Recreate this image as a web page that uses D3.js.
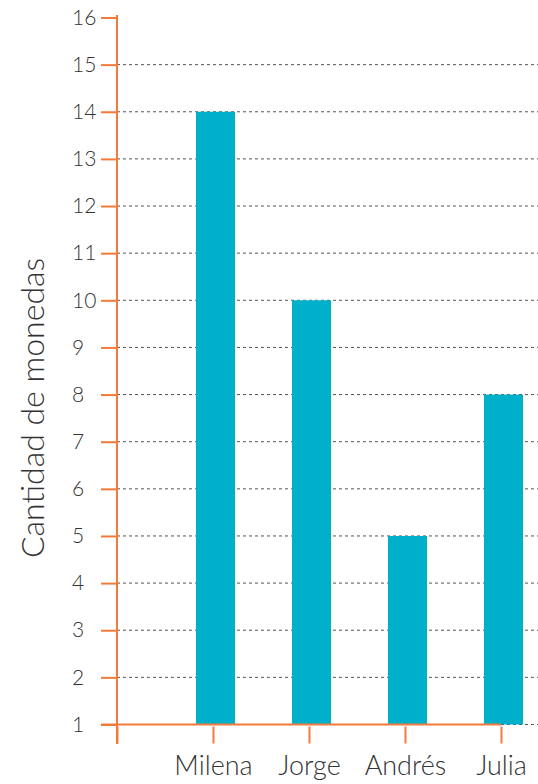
<!DOCTYPE html>
<html lang="es">
<head>
<meta charset="utf-8">
<title>Cantidad de monedas</title>
<script src="https://cdn.jsdelivr.net/npm/d3@7"></script>
<style>
  body { margin: 0; background: #fff; }
  svg { display: block; }
  text { font-family: Lato, "Open Sans", sans-serif; font-weight: 300; fill: #333; }
</style>
</head>
<body>
<svg id="chart"></svg>
<script>
const names = ["Milena", "Jorge", "Andrés", "Julia"];
const coins = [14, 10, 5, 8];
const yTicks = d3.range(1, 17);
const yTitle = "Cantidad de monedas";

const width = 538, height = 784;
const orange = "#f47a3a", teal = "#00b0cb";

const svg = d3.select("#chart").attr("width", width).attr("height", height);

const x = d3.scalePoint().domain(["", ...names]).range([117, 501]);
const y = d3.scaleLinear().domain([1, 16]).range([724.5, 17.5]);

const defs = svg.append("defs");
const f = defs.append("filter").attr("id", "glow").attr("x", "-50%").attr("y", "-5%").attr("width", "200%").attr("height", "110%");
f.append("feGaussianBlur").attr("stdDeviation", 5);

// soft glow along the axes
svg.append("line").attr("x1", 122).attr("x2", 122).attr("y1", 20).attr("y2", 740)
  .attr("stroke", "#f9c9b4").attr("stroke-width", 8).attr("opacity", 0.35).attr("filter", "url(#glow)");
svg.append("line").attr("x1", 120).attr("x2", 500).attr("y1", 732).attr("y2", 732)
  .attr("stroke", "#f9c9b4").attr("stroke-width", 6).attr("opacity", 0.3).attr("filter", "url(#glow)");

// grid lines (none at the top value)
svg.append("g").selectAll("line").data(yTicks.slice(0, -1)).join("line")
  .attr("x1", 117).attr("x2", width)
  .attr("y1", d => y(d)).attr("y2", d => y(d))
  .attr("stroke", "#555").attr("stroke-width", 1).attr("stroke-dasharray", "3,3");

// bars
svg.append("g").selectAll("rect").data(names).join("rect")
  .attr("x", d => x(d) - 17)
  .attr("width", 39)
  .attr("y", (d, i) => y(coins[i]))
  .attr("height", (d, i) => y(1) - y(coins[i]))
  .attr("fill", teal);

// y axis
const yAxis = svg.append("g").attr("transform", "translate(117,0)")
  .call(d3.axisLeft(y).tickValues(yTicks).tickSize(16).tickPadding(0).tickFormat(d3.format("d")));
yAxis.select(".domain").remove();
yAxis.selectAll(".tick line").attr("stroke", orange).attr("stroke-width", 2);
yAxis.selectAll(".tick text").attr("x", -45).attr("text-anchor", "start")
  .attr("font-size", 21).attr("fill", "#333").attr("font-family", null);
yAxis.append("line").attr("x1", 0).attr("x2", 0).attr("y1", 15).attr("y2", 744)
  .attr("stroke", orange).attr("stroke-width", 2);

// x axis
svg.append("line").attr("x1", 101).attr("x2", 501).attr("y1", y(1)).attr("y2", y(1))
  .attr("stroke", orange).attr("stroke-width", 2);
const xAxis = svg.append("g").attr("transform", `translate(0,${y(1) + 2})`)
  .call(d3.axisBottom(x).tickSize(17).tickPadding(12));
xAxis.select(".domain").remove();
xAxis.selectAll(".tick line").attr("stroke", orange).attr("stroke-width", 2);
xAxis.selectAll(".tick text").attr("font-size", 27).attr("fill", "#222").attr("font-family", null);

// y title
svg.append("text")
  .attr("transform", "translate(44,408) rotate(-90)")
  .attr("text-anchor", "middle")
  .attr("font-size", 32)
  .attr("fill", "#222")
  .text(yTitle);
</script>
</body>
</html>
